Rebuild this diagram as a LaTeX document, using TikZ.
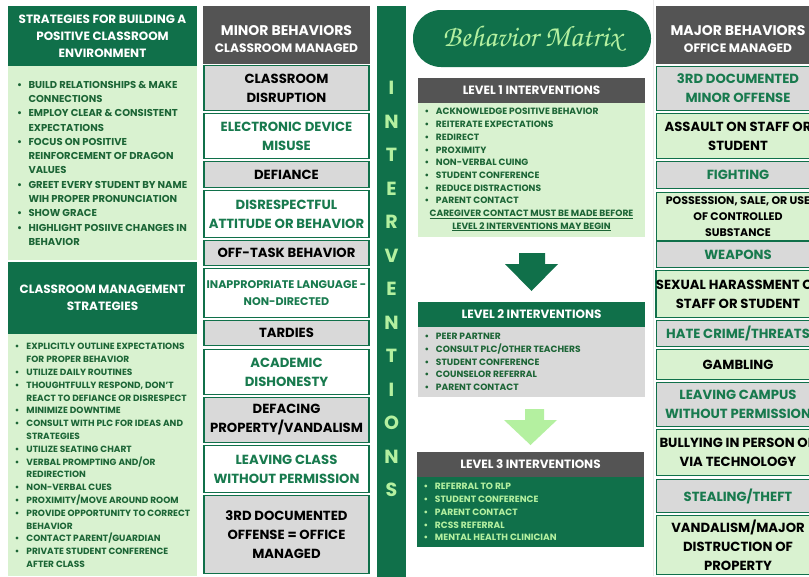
\documentclass[tikz,border=0pt]{standalone}
\usepackage{fontspec}
\setmainfont{Poppins}
\newfontfamily\chorus{texgyrechorus-mediumitalic.otf}
\definecolor{dg}{HTML}{10704A}
\definecolor{lg}{HTML}{D9F2D0}
\definecolor{hg}{HTML}{545454}
\definecolor{bg}{HTML}{D9D9D9}
\definecolor{tg}{HTML}{187A4E}
\definecolor{pg}{HTML}{B4F0A0}
\definecolor{ld}{HTML}{1C6536}
\newcommand\bi{\makebox[11.5pt][l]{\textbullet}}
\newcommand\ci{\hspace*{11.5pt}}
\newcommand\cellfont{\bfseries\fontsize{13.2}{19}\selectfont}
\begin{document}
\begin{tikzpicture}[x=1pt,y=-1pt,
  every node/.style={inner sep=0pt, outer sep=0pt},
  panel/.style={anchor=north west},
  hdr/.style={text=white, align=center, font=\bfseries\fontsize{12}{17}\selectfont},
  colhdr/.style={text=white, align=center},
  lst/.style={anchor=north west, align=left, text=ld, font=\bfseries\fontsize{10}{14.3}\selectfont},
  mg/.style={draw=dg, line width=1.2pt, fill=bg, text=black, minimum width=165, align=center, font=\cellfont},
  mw/.style={draw=dg, line width=1.2pt, fill=white, text=tg, minimum width=165, align=center, font=\cellfont},
  Mg/.style={draw=dg, line width=1.2pt, fill=bg, text=tg, minimum width=163, align=center, font=\cellfont},
  Ml/.style={draw=dg, line width=1.2pt, fill=lg, text=black, minimum width=163, align=center, font=\cellfont},
  vlet/.style={text=pg, font=\bfseries\fontsize{19}{19}\selectfont},
  lvh/.style={minimum width=227, minimum height=25, text=white, font=\bfseries\fontsize{12}{13}\selectfont},
  lvb/.style={minimum width=227, anchor=north},
  lvl/.style={lst, font=\bfseries\fontsize{9.1}{12.7}\selectfont}
]
\useasboundingbox (0,0) rectangle (809,576);
\fill[white] (0,0) rectangle (809,576);
\begin{scope}
\clip (0,0) rectangle (809,576);

% ---------- left column ----------
\node[panel, fill=dg, minimum width=189, minimum height=60] (h1) at (8,6) {};
\node[hdr] (h1t) at (h1.center) {STRATEGIES FOR BUILDING A\\POSITIVE CLASSROOM\\ENVIRONMENT};
\node[panel, fill=lg, minimum width=189, minimum height=194] (b1) at (8,66) {};
\node[lst] (l1) at (17,81) {\bi BUILD RELATIONSHIPS \& MAKE\\
\ci CONNECTIONS\\
\bi EMPLOY CLEAR \& CONSISTENT\\
\ci EXPECTATIONS\\
\bi FOCUS ON POSITIVE\\
\ci REINFORCEMENT OF DRAGON\\
\ci VALUES\\
\bi GREET EVERY STUDENT BY NAME\\
\ci WIH PROPER PRONUNCIATION\\
\bi SHOW GRACE\\
\bi HIGHLIGHT POSIIVE CHANGES IN\\
\ci BEHAVIOR};

\node[panel, fill=dg, minimum width=189, minimum height=72] (h2) at (8,262) {};
\node[hdr] (h2t) at (h2.center) {CLASSROOM MANAGEMENT\\STRATEGIES};
\node[panel, fill=lg, minimum width=189, minimum height=242] (b2) at (8,334) {};
\node[lst, font=\bfseries\fontsize{9}{12.8}\selectfont] (l2) at (15,343.5) {\bi EXPLICITLY OUTLINE EXPECTATIONS\\
\ci FOR PROPER BEHAVIOR\\
\bi UTILIZE DAILY ROUTINES\\
\bi THOUGHTFULLY RESPOND, DON'T\\
\ci REACT TO DEFIANCE OR DISRESPECT\\
\bi MINIMIZE DOWNTIME\\
\bi CONSULT WITH PLC FOR IDEAS AND\\
\ci STRATEGIES\\
\bi UTILIZE SEATING CHART\\
\bi VERBAL PROMPTING AND/OR\\
\ci REDIRECTION\\
\bi NON-VERBAL CUES\\
\bi PROXIMITY/MOVE AROUND ROOM\\
\bi PROVIDE OPPORTUNITY TO CORRECT\\
\ci BEHAVIOR\\
\bi CONTACT PARENT/GUARDIAN\\
\bi PRIVATE STUDENT CONFERENCE\\
\ci AFTER CLASS};

% ---------- minor behaviors ----------
\node[panel, fill=hg, minimum width=167, minimum height=58] (mh) at (203,6) {};
\node[colhdr] (mht) at (286.5,39.5) {{\bfseries\fontsize{14}{18}\selectfont MINOR BEHAVIORS}\\[5pt]{\bfseries\fontsize{12.2}{15}\selectfont CLASSROOM MANAGED}};
\node[mg, minimum height=45] (m1) at (286.5,88) {CLASSROOM\\DISRUPTION};
\node[mw, minimum height=45] (m2) at (286.5,136) {ELECTRONIC DEVICE\\MISUSE};
\node[mg, minimum height=26] (m3) at (286.5,174.5) {DEFIANCE};
\node[mw, minimum height=47] (m4) at (286.5,214) {DISRESPECTFUL\\ATTITUDE OR BEHAVIOR};
\node[mg, minimum height=25] (m5) at (286.5,253) {OFF-TASK BEHAVIOR};
\node[mw, minimum height=49, font=\bfseries\fontsize{11.1}{17}\selectfont] (m6) at (286.5,293) {INAPPROPRIATE LANGUAGE -\\NON-DIRECTED};
\node[mg, minimum height=25] (m7) at (286.5,333) {TARDIES};
\node[mw, minimum height=45] (m8) at (286.5,372) {ACADEMIC\\DISHONESTY};
\node[mg, minimum height=45] (m9) at (286.5,420) {DEFACING\\PROPERTY/VANDALISM};
\node[mw, minimum height=47] (m10) at (286.5,469) {LEAVING CLASS\\WITHOUT PERMISSION};
\node[mg, minimum height=78] (m11) at (286.5,534.5) {3RD DOCUMENTED\\OFFENSE = OFFICE\\MANAGED};

% ---------- interventions strip ----------
\node[panel, fill=dg, minimum width=29, minimum height=572] (strip) at (377,6) {};
\foreach \l [count=\i] in {I,N,T,E,R,V,E,N,T,I,O,N,S}
  \node[vlet] (v\i) at (391.5,{88+33.5*(\i-1)}) {\l};

% ---------- behavior matrix ----------
\node[fill=dg, rounded corners=28pt, minimum width=238, minimum height=57] (title) at (532,38.5) {};
\node[text=pg, font=\chorus\fontsize{30}{30}\selectfont] (titlet) at (title.center) {Behavior Matrix};

\node[lvh, fill=hg] (L1h) at (531.5,90) {LEVEL 1 INTERVENTIONS};
\node[lvb, fill=lg, minimum height=134] (L1b) at (L1h.south) {};
\node[lvl] (L1l) at (424.5,108.5) {\bi ACKNOWLEDGE POSITIVE BEHAVIOR\\
\bi REITERATE EXPECTATIONS\\
\bi REDIRECT\\
\bi PROXIMITY\\
\bi NON-VERBAL CUING\\
\bi STUDENT CONFERENCE\\
\bi REDUCE DISTRACTIONS\\
\bi PARENT CONTACT};
\node[text=ld, align=center, font=\bfseries\fontsize{9.1}{12.7}\selectfont] (L1u) at (531.5,220.5) {\underline{CAREGIVER CONTACT MUST BE MADE BEFORE}\\\underline{LEVEL 2 INTERVENTIONS MAY BEGIN}};

\fill[dg] (519,253) -- (545,253) -- (545,264) -- (558,264) -- (531.5,291) -- (505,264) -- (519,264) -- cycle;

\node[lvh, fill=dg] (L2h) at (531.5,314.5) {LEVEL 2 INTERVENTIONS};
\node[lvb, fill=bg, minimum height=70] (L2b) at (L2h.south) {};
\node[lvl] (L2l) at (424.5,333.5) {\bi PEER PARTNER\\
\bi CONSULT PLC/OTHER TEACHERS\\
\bi STUDENT CONFERENCE\\
\bi COUNSELOR REFERRAL\\
\bi PARENT CONTACT};

\fill[pg] (525,409) -- (544,409) -- (544,420) -- (557,420) -- (530.5,445) -- (504,420) -- (525,420) -- cycle;

\node[lvh, fill=hg] (L3h) at (530.5,464.5) {LEVEL 3 INTERVENTIONS};
\node[lvb, fill=dg, minimum height=70] (L3b) at (L3h.south) {};
\node[lvl, text=pg] (L3l) at (423.5,483.5) {\bi REFERRAL TO RLP\\
\bi STUDENT CONFERENCE\\
\bi PARENT CONTACT\\
\bi RCSS REFERRAL\\
\bi MENTAL HEALTH CLINICIAN};

\draw[black!8, line width=0.8pt] (653.5,0) -- (653.5,576);

% ---------- major behaviors ----------
\node[panel, fill=hg, minimum width=165, minimum height=58] (Mh) at (656,6) {};
\node[colhdr] (Mht) at (738,39.5) {{\bfseries\fontsize{14}{18}\selectfont MAJOR BEHAVIORS}\\[5pt]{\bfseries\fontsize{12.2}{15}\selectfont OFFICE MANAGED}};
\node[Mg, minimum height=44] (M1) at (738,88.5) {3RD DOCUMENTED\\MINOR OFFENSE};
\node[Ml, minimum height=45] (M2) at (738,136) {ASSAULT ON STAFF OR\\STUDENT};
\node[Mg, minimum height=27] (M3) at (738,175) {FIGHTING};
\node[Ml, minimum height=48, font=\bfseries\fontsize{11}{16}\selectfont] (M4) at (738,216.5) {POSSESSION, SALE, OR USE\\OF CONTROLLED\\SUBSTANCE};
\node[Mg, minimum height=26] (M5) at (738,254.5) {WEAPONS};
\node[Ml, minimum height=47] (M6) at (738,294) {SEXUAL HARASSMENT OF\\STAFF OR STUDENT};
\node[Mg, minimum height=26] (M7) at (738,333.5) {HATE CRIME/THREATS};
\node[Ml, minimum height=30] (M8) at (738,364.5) {GAMBLING};
\node[Mg, minimum height=44] (M9) at (738,404.5) {LEAVING CAMPUS\\WITHOUT PERMISSION};
\node[Ml, minimum height=46] (M10) at (738,452.5) {BULLYING IN PERSON OR\\VIA TECHNOLOGY};
\node[Mg, minimum height=33] (M11) at (738,496) {STEALING/THEFT};
\node[Ml, minimum height=59] (M12) at (738,545) {VANDALISM/MAJOR\\DISTRUCTION OF\\PROPERTY};
\end{scope}
\end{tikzpicture}
\end{document}
